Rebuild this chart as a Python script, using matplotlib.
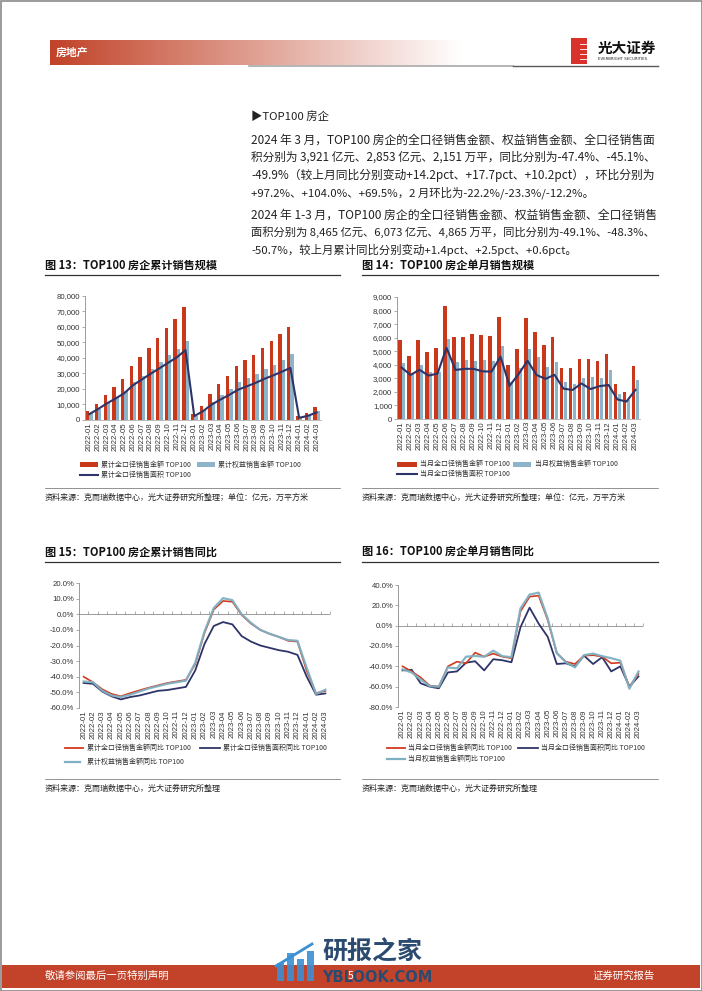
import numpy as np
import matplotlib
matplotlib.use('Agg')
import matplotlib.pyplot as plt
from matplotlib.lines import Line2D
from matplotlib.patches import Rectangle

plt.rcParams['font.family'] = ['Noto Sans CJK SC', 'DejaVu Sans']

# ---- data -------------------------------------------------------------
months = ['2022-01', '2022-02', '2022-03', '2022-04', '2022-05', '2022-06',
          '2022-07', '2022-08', '2022-09', '2022-10', '2022-11', '2022-12',
          '2023-01', '2023-02', '2023-03', '2023-04', '2023-05', '2023-06',
          '2023-07', '2023-08', '2023-09', '2023-10', '2023-11', '2023-12',
          '2024-01', '2024-02', '2024-03']

# fig 13: cumulative sales (亿元 / 万平方米)
cum_amount = [5900, 10600, 16300, 21000, 26200, 34800, 40800, 46700, 53200, 59100, 65300, 72800,
              3600, 9300, 16700, 23000, 28500, 34600, 38400, 42200, 46700, 51100, 55400, 60100,
              2600, 4600, 8465]
cum_equity = [4200, 7300, 11500, 15000, 18500, 24500, 28700, 33000, 37400, 41700, 45900, 51000,
              2700, 6400, 11600, 16400, 20200, 24400, 27100, 29700, 32700, 35800, 38800, 42400,
              1900, 3200, 6073]
cum_area = [3800, 7100, 10700, 13900, 17300, 22500, 26100, 29800, 33300, 36900, 40400, 45100,
            2500, 5700, 10000, 13200, 16200, 19500, 21700, 23900, 26500, 28700, 31100, 33600,
            1400, 2700, 4865]

# fig 14: monthly sales
mon_amount = [5850, 4650, 5800, 4930, 5220, 8300, 6070, 6050, 6270, 6200, 6130, 7550,
              3990, 5200, 7450, 6400, 5480, 6020, 3790, 3770, 4420, 4440, 4300, 4760,
              2570, 1990, 3921]
mon_equity = [4130, 3290, 3990, 3450, 3480, 5900, 4230, 4340, 4250, 4320, 4290, 5380,
              2700, 3760, 5200, 4580, 3800, 4240, 2700, 2600, 3020, 3120, 2990, 3640,
              1850, 1370, 2853]
mon_area = [3800, 3250, 3630, 3200, 3350, 5250, 3620, 3700, 3700, 3520, 3490, 4600,
            2450, 3300, 4300, 3250, 2960, 3260, 2240, 2140, 2620, 2210, 2420, 2510,
            1440, 1290, 2151]

# fig 15: cumulative YoY (%)
cum_amount_yoy = [-40, -43.5, -48, -51, -52.5, -50.5, -48.7, -47, -45.5, -44, -43, -42,
                  -32, -12, 3, 8.5, 8, -0.5, -6, -10, -12.5, -14.5, -17, -17.5,
                  -36.4, -50.5, -49.1]
cum_area_yoy = [-44, -44.5, -49.5, -52.5, -54.5, -53, -52, -50.5, -49, -48.5, -47.5, -46.5,
                -36, -19, -7.5, -5, -6.5, -14, -17.5, -20, -21.5, -23, -24, -26,
                -40, -51.5, -50.7]
cum_equity_yoy = [-43, -43.5, -49, -52, -53, -51.5, -49.5, -47.5, -46, -44.5, -43.5, -42.5,
                  -31, -11, 4, 10.3, 9, 0, -5.5, -10, -12.5, -14.5, -16.5, -17,
                  -34.4, -51, -48.3]

# fig 16: monthly YoY (%)
mon_amount_yoy = [-40, -45, -51, -59, -60, -40, -35.4, -37, -26.5, -30.5, -27.5, -30.5,
                  -32, 14, 28.5, 29.5, 5.6, -27, -35.4, -37.7, -29.5, -29, -30.5, -37,
                  -36.4, -60, -47.4]
mon_area_yoy = [-44, -43.4, -56.7, -60, -61.6, -46, -45, -36.4, -35, -44, -33, -34,
                -36, -1.5, 17.7, 2, -11, -37.7, -37, -40, -29.5, -37.7, -31, -45,
                -40, -60, -49.9]
mon_equity_yoy = [-43, -46, -53, -59.5, -60, -41, -42, -30.5, -29.8, -30.5, -24.6, -30,
                  -31, 17, 30.5, 32.5, 7, -27, -36, -41, -29, -27.5, -30, -32,
                  -34.4, -62, -45.1]

RED = '#C9381B'
LBLUE = '#8DB4C8'
NAVY = '#2E3468'
LINE_RED = '#D23A1E'
LINE_LBLUE = '#7FB0C2'
GREY = '#8C8C8C'

W, H = 702, 991
fig = plt.figure(figsize=(W / 100, H / 100), dpi=100)


def fx(x):
    return x / W


def fy(y):
    return 1 - y / H


def ftext(x, y, s, **kw):
    kw.setdefault('va', 'center')
    return fig.text(fx(x), fy(y), s, **kw)


def fline(x0, x1, y0, y1, **kw):
    fig.add_artist(Line2D([fx(x0), fx(x1)], [fy(y0), fy(y1)],
                          transform=fig.transFigure, **kw))


def frect(x, y, w, h, **kw):
    fig.add_artist(Rectangle((fx(x), fy(y + h)), w / W, h / H,
                             transform=fig.transFigure, **kw))


def axes_px(x0, y0, x1, y1):
    return fig.add_axes([fx(x0), fy(y1), (x1 - x0) / W, (y1 - y0) / H])


# ---- page frame, header, footer ---------------------------------------
frect(0.5, 0.5, W - 1, H - 1, fill=False, edgecolor='#8a8a8a', lw=1.2)

ax_h = axes_px(50, 40, 462, 65)
grad = np.linspace(0, 1, 256)
red0 = np.array([193, 66, 40]) / 255
img = red0[None, :] * (1 - grad[:, None]) + grad[:, None]
ax_h.imshow(img[None, :, :], aspect='auto', extent=[0, 1, 0, 1])
ax_h.set_axis_off()
ftext(56, 52.5, '房地产', color='white', fontsize=7.8, fontweight='bold')

fline(249, 513, 65.5, 65.5, color='#a8a8a8', lw=1.2)
fline(513, 658, 65.5, 65.5, color='#5a5a5a', lw=1.0)

frect(571, 38, 16, 26, color='#D8322B', lw=0)
for yy in (44, 49, 54, 59):
    fline(580, 587, yy, yy, color='white', lw=0.6)
ftext(598, 48, '光大证券', fontsize=10.5, fontweight='bold', color='#111')
ftext(598, 59.5, 'EVERBRIGHT SECURITIES', fontsize=2.8, color='#222',
      family=['DejaVu Sans'])

frect(2, 965, W - 4, 23, color='#C2432A', lw=0)
ftext(45, 976, '敬请参阅最后一页特别声明', fontsize=7.5, color='white')
ftext(655, 976, '证券研究报告', fontsize=7.5, color='white', ha='right')

# watermark (the page number sits under it, as on the source page)
for bx, bh in ((277, 18), (287, 28), (297, 22), (307, 30)):
    frect(bx, 981 - bh, 7, bh, color='#3B8FD3', lw=0, alpha=0.9)
fline(276, 312, 966, 944, color='#3B8FD3', lw=2)
ftext(322, 952, '研报之家', fontsize=18, fontweight='bold', color='#2B4A6F')
ftext(322, 977, 'YBLOOK.COM', fontsize=10.5, fontweight='bold', color='#2B4A6F',
      family=['DejaVu Sans'])
ftext(351, 976, '5', fontsize=7.5, color='white', ha='center')

# ---- body text --------------------------------------------------------
body = dict(fontsize=8.2, color='#222')
ftext(251, 116, '▶TOP100 房企', **body)
lines1 = ['2024 年 3 月，TOP100 房企的全口径销售金额、权益销售金额、全口径销售面',
          '积分别为 3,921 亿元、2,853 亿元、2,151 万平，同比分别为-47.4%、-45.1%、',
          '-49.9%（较上月同比分别变动+14.2pct、+17.7pct、+10.2pct），环比分别为',
          '+97.2%、+104.0%、+69.5%，2 月环比为-22.2%/-23.3%/-12.2%。']
lines2 = ['2024 年 1-3 月，TOP100 房企的全口径销售金额、权益销售金额、全口径销售',
          '面积分别为 8,465 亿元、6,073 亿元、4,865 万平，同比分别为-49.1%、-48.3%、',
          '-50.7%，较上月累计同比分别变动+1.4pct、+2.5pct、+0.6pct。']
justified = []
for i, s in enumerate(lines1):
    t = ftext(251, 140 + 17.5 * i, s, **body)
    if i < 3:
        justified.append(t)
for i, s in enumerate(lines2):
    t = ftext(251, 215 + 17.5 * i, s, **body)
    if i < 2:
        justified.append(t)

# justified lines: fit each to the text block width
renderer = fig.canvas.get_renderer()
for t in justified:
    w = t.get_window_extent(renderer).width
    t.set_fontsize(body['fontsize'] * 405 / w)

# ---- chart frames -----------------------------------------------------
def frame(x0, x1, ytitle, title, yline, source):
    ftext(x0, ytitle, title, fontsize=8, fontweight='bold', color='#111')
    fline(x0, x1, ytitle + 10, ytitle + 10, color='#333', lw=0.9)
    fline(x0, x1, yline, yline, color='#666', lw=0.5)
    ftext(x0, yline + 9, source, fontsize=5.8, color='#222')


src_a = '资料来源：克而瑞数据中心，光大证券研究所整理；单位：亿元，万平方米'
src_b = '资料来源：克而瑞数据中心，光大证券研究所整理'
frame(45, 340, 265, '图 13：TOP100 房企累计销售规模', 488, src_a)
frame(362, 658, 265, '图 14：TOP100 房企单月销售规模', 488, src_a)
frame(45, 340, 552, '图 15：TOP100 房企累计销售同比', 779, src_b)
frame(362, 658, 552, '图 16：TOP100 房企单月销售同比', 779, src_b)

tick_font = ['Liberation Sans', 'Noto Sans CJK SC']
leg_kw = dict(fontsize=5.0, color='#333')


def style_axes(ax, yticks, fmt):
    x = np.arange(len(months))
    ax.set_xlim(-0.5, len(months) - 0.5)
    ax.set_xticks(x)
    ax.set_xticklabels(months, rotation=90, family=tick_font)
    ax.set_yticks(yticks)
    ax.set_yticklabels([fmt(v) for v in yticks], family=tick_font)
    ax.set_ylim(yticks[0], yticks[-1])
    for s in ('top', 'right'):
        ax.spines[s].set_visible(False)
    ax.spines['left'].set_color(GREY)
    ax.spines['left'].set_linewidth(0.6)
    ax.spines['bottom'].set_color('#b0b0b0')
    ax.spines['bottom'].set_linewidth(0.6)
    ax.tick_params(axis='y', length=2, width=0.5, color=GREY, labelsize=5.6,
                   pad=1.5, labelcolor='#333')
    ax.tick_params(axis='x', length=0, labelsize=5.6, pad=1.5, labelcolor='#333')
    ax.patch.set_alpha(0)


def bar_chart(ax, amount, equity, area, yticks):
    x = np.arange(len(months))
    ax.bar(x - 0.19, amount, width=0.38, color=RED, zorder=2)
    ax.bar(x + 0.19, equity, width=0.38, color=LBLUE, zorder=2)
    ax.plot(x, area, color=NAVY, lw=1.5, zorder=3)
    style_axes(ax, yticks, lambda v: f'{v:,.0f}')


def line_chart(ax, amount, area, equity, yticks):
    x = np.arange(len(months))
    ax.axhline(0, color=GREY, lw=0.6, zorder=1)
    bounds = np.arange(len(months) + 1) - 0.5
    ax.plot(bounds, np.zeros(len(bounds)), ls='none', marker=2, ms=2.5,
            mew=0.5, color=GREY, zorder=1)
    ax.plot(x, amount, color=LINE_RED, lw=1.2, zorder=3)
    ax.plot(x, area, color=NAVY, lw=1.3, zorder=2)
    ax.plot(x, equity, color=LINE_LBLUE, lw=1.6, zorder=4, alpha=0.95)
    style_axes(ax, yticks, lambda v: f'{v:.1f}%')
    ax.spines['bottom'].set_visible(False)


# fig 13
ax13 = axes_px(85, 296, 321, 420)
bar_chart(ax13, cum_amount, cum_equity, cum_area, list(range(0, 80001, 10000)))
frect(80, 462, 18, 5, color=RED, lw=0)
ftext(101, 464.5, '累计全口径销售金额 TOP100', **leg_kw)
frect(197, 462, 18, 5, color=LBLUE, lw=0)
ftext(218, 464.5, '累计权益销售金额 TOP100', **leg_kw)
fline(80, 98, 475, 475, color=NAVY, lw=1.5)
ftext(101, 475, '累计全口径销售面积 TOP100', **leg_kw)

# fig 14
ax14 = axes_px(397, 297, 640, 419)
bar_chart(ax14, mon_amount, mon_equity, mon_area, list(range(0, 9001, 1000)))
frect(397, 461.5, 20, 5, color=RED, lw=0)
ftext(420, 464, '当月全口径销售金额 TOP100', **leg_kw)
frect(513, 461.5, 18, 5, color=LBLUE, lw=0)
ftext(535, 464, '当月权益销售金额 TOP100', **leg_kw)
fline(397, 417, 474, 474, color=NAVY, lw=1.5)
ftext(420, 474, '当月全口径销售面积 TOP100', **leg_kw)

# fig 15
ax15 = axes_px(79, 583, 330, 708)
line_chart(ax15, cum_amount_yoy, cum_area_yoy, cum_equity_yoy, list(range(-60, 21, 10)))
fline(65, 83, 748, 748, color=LINE_RED, lw=1.3)
ftext(87, 748, '累计全口径销售金额同比 TOP100', **leg_kw)
fline(200, 220, 748, 748, color=NAVY, lw=1.3)
ftext(223, 748, '累计全口径销售面积同比 TOP100', **leg_kw)
fline(65, 80, 762, 762, color=LINE_LBLUE, lw=1.6)
ftext(87, 762, '累计权益销售金额同比 TOP100', **leg_kw)

# fig 16
ax16 = axes_px(398, 585, 643, 707)
line_chart(ax16, mon_amount_yoy, mon_area_yoy, mon_equity_yoy, list(range(-80, 41, 20)))
fline(387, 405, 748, 748, color=LINE_RED, lw=1.3)
ftext(408, 748, '当月全口径销售金额同比 TOP100', **leg_kw)
fline(518, 538, 748, 748, color=NAVY, lw=1.3)
ftext(541, 748, '当月全口径销售面积同比 TOP100', **leg_kw)
fline(387, 405, 759, 759, color=LINE_LBLUE, lw=1.6)
ftext(408, 759, '当月权益销售金额同比 TOP100', **leg_kw)

fig.savefig('out.png', dpi=100)
